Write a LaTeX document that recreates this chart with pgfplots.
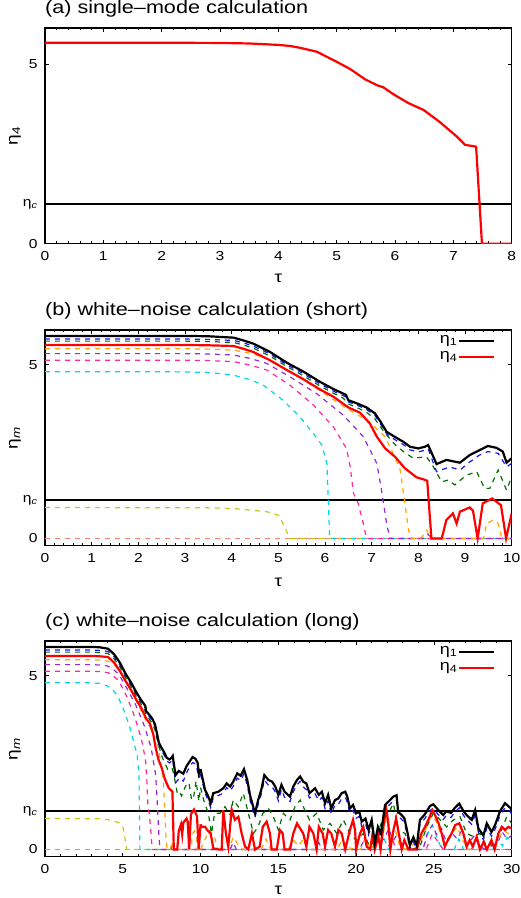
\documentclass[border=0pt]{standalone}
\usepackage{fontspec}
\setmainfont{Liberation Sans}[FakeStretch=1.2]
\usepackage{pgfplots}
\pgfplotsset{compat=1.18}
\usepackage{pgfplotstable}

\definecolor{cblue}{RGB}{20,20,255}
\definecolor{cgreen}{RGB}{0,110,0}
\definecolor{corange}{RGB}{255,165,0}
\definecolor{cpurple}{RGB}{150,40,220}
\definecolor{cpink}{RGB}{255,40,150}
\definecolor{ccyan}{RGB}{0,215,230}
\definecolor{cyellow}{RGB}{200,200,20}
\definecolor{csalmon}{RGB}{250,128,114}
\definecolor{cred}{RGB}{255,0,0}

\newcommand{\ticfont}{\fontsize{13}{13}\selectfont}
\newcommand{\titfont}{\fontsize{18}{18}\selectfont}
\newcommand{\labfont}{\fontsize{16}{16}\selectfont}
\newcommand{\legfont}{\fontsize{15}{15}\selectfont}

% ---------- panel (b) data, also first part of panel (c) ----------
\pgfplotstableread{
x y
0 5.83
3 5.83
3.5 5.82
4.04 5.78
4.25 5.70
4.46 5.61
4.82 5.37
5.18 5.06
5.54 4.80
5.89 4.51
6.18 4.30
6.39 4.17
6.45 4.13
6.5 3.98
6.68 3.89
6.89 3.77
7.07 3.60
7.18 3.38
7.32 3.07
7.5 2.92
7.68 2.78
7.82 2.64
8.0 2.59
8.14 2.64
8.21 2.69
8.39 2.14
8.6 2.26
8.89 2.18
9.1 2.40
9.31 2.54
9.49 2.66
9.67 2.61
9.81 2.50
9.89 2.18
10 2.31
}\blackB
\pgfplotstableread{
x y
0 5.74
3 5.74
3.5 5.73
4.04 5.70
4.25 5.63
4.46 5.54
4.82 5.31
5.18 5.00
5.54 4.74
5.89 4.45
6.18 4.24
6.39 4.11
6.45 4.07
6.5 3.93
6.68 3.84
6.89 3.71
7.07 3.54
7.18 3.31
7.32 3.01
7.5 2.84
7.68 2.70
7.82 2.55
8.0 2.49
8.14 2.54
8.21 2.58
8.39 1.92
8.67 2.06
8.89 1.97
9.1 2.20
9.31 2.40
9.49 2.50
9.71 2.45
9.89 2.06
10 2.16
}\blueB
\pgfplotstableread{
x y
0 5.68
3 5.68
3.5 5.67
4.04 5.64
4.25 5.57
4.46 5.48
4.82 5.25
5.18 4.95
5.54 4.68
5.89 4.39
6.18 4.18
6.39 4.04
6.5 3.87
6.68 3.77
6.89 3.63
7.07 3.44
7.18 3.22
7.32 2.98
7.5 2.70
7.68 2.50
7.89 2.31
8.17 2.35
8.28 2.16
8.5 1.63
8.64 1.68
8.78 1.54
9.03 1.82
9.25 1.92
9.42 1.44
9.53 1.44
9.71 1.97
9.89 1.39
10 1.78
}\greenB
\pgfplotstableread{
x y
0 5.57
3 5.57
3.5 5.56
4.04 5.54
4.25 5.46
4.46 5.37
4.82 5.13
5.18 4.85
5.54 4.58
5.89 4.29
6.18 4.08
6.5 3.77
6.75 3.62
6.96 3.31
7.11 2.93
7.29 2.59
7.5 2.35
7.71 2.02
7.96 1.76
8.11 1.70
8.19 1.66
8.28 0
8.5 0
8.6 0.53
8.74 0.72
8.82 0.43
8.89 0.77
9.1 0.89
9.17 0.80
9.27 0
9.38 1.01
9.58 1.15
9.77 0.96
9.88 0
10 0.72
}\redB
\pgfplotstableread{
x y
0 5.46
3 5.46
3.5 5.45
4.04 5.42
4.4 5.33
4.75 5.18
5.25 4.80
5.82 4.32
6.46 3.74
6.89 3.41
7.25 2.98
7.32 2.83
7.46 2.45
7.61 1.97
7.71 1.02
7.79 0.24
7.85 0
8.05 0
8.18 0.24
8.25 0.02
8.3 0
9.4 0
9.46 0.43
9.61 0.53
9.71 0.43
9.79 0
10 0
}\orangeB
\pgfplotstableread{
x y
0 5.32
3 5.32
3.5 5.31
4.04 5.28
4.4 5.18
4.75 5.04
5.25 4.65
5.82 4.17
6.39 3.55
6.82 2.93
7.11 2.16
7.21 1.39
7.32 0.43
7.39 0
8.1 0
8.2 0.12
8.3 0
10 0
}\purpleB
\pgfplotstableread{
x y
0 5.13
3 5.13
3.5 5.12
4.04 5.09
4.4 4.99
4.75 4.85
5.25 4.41
5.75 3.84
6.18 3.21
6.46 2.59
6.54 2.06
6.61 1.30
6.71 1.01
6.82 0.43
6.89 0
10 0
}\pinkB
\pgfplotstableread{
x y
0 4.80
2.6 4.80
3.5 4.78
4.04 4.70
4.4 4.57
4.68 4.41
5.1 3.98
5.46 3.50
5.75 3.02
5.93 2.69
6.04 2.16
6.07 1.10
6.1 0
10 0
}\cyanB
\pgfplotstableread{
x y
0 0.89
3.5 0.88
4.04 0.86
4.75 0.77
5.0 0.67
5.1 0.43
5.21 0.10
5.25 0
10 0
}\yellowB

% ---------- continuation of panel (c) ----------
\pgfplotstableread{
x y
10 2.31
10.1 2.10
10.29 1.71
10.5 1.52
10.65 1.33
10.82 1.62
11.14 1.66
11.46 1.76
11.68 1.90
11.9 1.81
12.1 1.95
12.36 2.19
12.58 2.12
12.79 2.31
13.0 2.00
13.2 1.52
13.5 1.04
13.7 1.42
13.9 1.71
14.1 2.14
14.36 2.00
14.6 1.95
14.8 1.81
15.0 1.57
15.2 1.86
15.4 1.66
15.75 1.52
15.96 1.81
16.2 2.00
16.4 2.10
16.6 1.95
16.8 1.90
17.0 1.62
17.36 1.76
17.6 1.57
17.8 1.66
18.0 1.33
18.2 1.57
18.4 1.18
18.64 1.42
18.86 1.47
19.07 1.62
19.3 1.66
19.43 1.52
19.6 1.18
19.8 1.28
20.0 1.04
20.2 1.09
20.36 0.80
20.6 0.89
20.8 0.56
21.0 0.85
21.2 0.17
21.4 0.65
21.6 0.46
21.86 1.28
22.07 1.37
22.39 1.52
22.6 1.56
22.7 1.08
22.9 1.00
23.1 0.90
23.25 0.60
23.46 0.12
23.68 0.35
23.9 0.10
24.1 0.85
24.4 1.00
24.75 1.25
24.96 1.30
25.25 1.15
25.6 0.99
25.8 1.10
26.1 1.05
26.35 1.20
26.63 1.32
26.9 1.10
27.1 0.99
27.43 0.85
27.65 1.13
27.86 0.60
28.18 0.40
28.4 0.75
28.7 0.50
28.93 0.70
29.25 1.10
29.57 1.33
29.9 1.20
30 1.15
}\blackC
\pgfplotstableread{
x y
10 2.16
10.1 1.98
10.29 1.62
10.5 1.40
10.65 1.20
10.82 1.50
11.14 1.55
11.46 1.62
11.68 1.78
11.9 1.68
12.1 1.82
12.36 2.05
12.58 1.98
12.79 2.18
13.0 1.85
13.2 1.38
13.5 0.92
13.7 1.30
13.9 1.58
14.1 2.00
14.36 1.85
14.6 1.80
14.8 1.66
15.0 1.40
15.2 1.72
15.4 1.50
15.75 1.38
15.96 1.66
16.2 1.86
16.4 1.96
16.6 1.80
16.8 1.72
17.0 1.48
17.36 1.60
17.6 1.40
17.8 1.50
18.0 1.18
18.2 1.40
18.4 1.02
18.64 1.28
18.86 1.30
19.07 1.46
19.3 1.50
19.43 1.36
19.6 1.02
19.8 1.12
20.0 0.90
20.2 0.95
20.36 0.66
20.6 0.75
20.8 0.42
21.0 0.70
21.2 0.05
21.4 0.52
21.6 0.35
21.86 1.15
22.07 1.25
22.39 1.40
22.6 1.44
22.7 0.95
22.9 0.88
23.1 0.78
23.25 0.48
23.46 0.02
23.68 0.22
23.9 0.00
24.1 0.72
24.4 0.88
24.75 1.12
24.96 1.18
25.25 1.02
25.6 0.86
25.8 0.98
26.1 0.92
26.35 1.08
26.63 1.20
26.9 0.98
27.1 0.86
27.43 0.72
27.65 1.00
27.86 0.48
28.18 0.28
28.4 0.62
28.7 0.38
28.93 0.58
29.25 0.98
29.57 1.20
29.9 1.08
30 1.02
}\blueC
\pgfplotstableread{
x y
10 1.78
10.2 1.42
10.5 1.04
10.7 0.46
10.9 1.04
11.25 1.04
11.57 1.23
11.9 1.00
12.1 1.42
12.43 1.23
12.75 1.62
13.07 1.04
13.4 0.46
13.7 0.65
14.0 1.04
14.36 1.18
14.68 0.94
15.0 0.56
15.32 1.04
15.75 0.85
16.07 1.23
16.4 1.42
16.71 1.13
17.0 0.85
17.46 1.04
17.89 0.56
18.32 0.75
18.75 0.46
19.18 0.85
19.6 0.46
20.0 0.27
20.46 0.46
20.89 0.08
21.32 0.37
21.75 0.94
22.07 1.04
22.4 1.32
22.7 0.56
23.14 0.46
23.57 0
24.1 0.08
24.54 0.65
24.96 1.04
25.4 0.85
25.82 0.65
26.25 0.85
26.68 0.94
27.1 0.46
27.53 0.37
27.96 0.46
28.4 0.08
28.82 0.17
29.25 0.46
29.68 0.94
30 0.75
}\greenC
\pgfplotstableread{
x y
10 0.72
10.07 0.65
10.29 0.65
10.43 0.56
10.65 0.46
10.82 0.03
11.14 0
11.36 0
11.46 1.13
11.63 0.46
11.78 0.08
12.0 1.15
12.2 0.85
12.43 0.94
12.64 0.46
12.86 0.08
13.07 0
13.3 0.46
13.5 0
13.8 0.08
14.0 0.65
14.25 0.80
14.46 0.46
14.57 0
14.9 0
15.1 0.56
15.28 0.46
15.4 0
15.75 0
15.96 0.46
16.2 0.75
16.4 0.60
16.6 0.46
16.8 0.08
17.0 0.65
17.25 0.46
17.46 0
17.6 0.65
17.85 0.46
18.0 0.08
18.2 0.56
18.4 0.46
18.64 0.08
18.86 0.56
19.07 0.46
19.3 0
19.6 0.56
19.8 0.85
19.93 0.56
20.0 0
20.25 0.46
20.46 0.65
20.68 0.08
20.9 0
21.06 0.46
21.2 0
21.43 0.37
21.57 0
21.75 0.65
21.93 1.18
22.07 0.75
22.2 0
22.4 0.56
22.57 0.89
22.7 0.56
22.93 0
23.1 0.27
23.36 0
23.9 0
24.2 0.46
24.43 0.65
24.64 0.85
24.9 1.13
25.07 0.99
25.3 0.75
25.5 0.46
25.7 0.08
25.9 0.27
26.14 0.46
26.36 0.70
26.63 0.75
26.9 0.46
27.1 0.08
27.3 0.27
27.5 0.08
27.75 0.37
27.96 0
28.2 0.22
28.4 0
28.7 0.27
28.9 0
29.14 0.46
29.36 0.65
29.57 0.56
29.78 0.65
30 0.60
}\redC
\pgfplotstableread{
x y
10 0
10.3 0.30
10.6 0.55
10.9 0.35
11.1 0
11.8 0
12.1 0.35
12.4 0.15
12.7 0
13.9 0
14.2 0.30
14.5 0
15.6 0
16.0 0.25
16.3 0.10
16.6 0.30
16.9 0
18.8 0
19.1 0.30
19.4 0.05
20.3 0
20.6 0.35
20.9 0
21.7 0.40
21.95 0.90
22.2 0.30
22.5 0.60
22.8 0.10
23.2 0
24.2 0.30
24.5 0.60
24.8 0.95
25.1 0.85
25.4 0.50
25.7 0.20
26.1 0.45
26.5 0.65
26.8 0.30
27.2 0
28.9 0
29.2 0.35
29.5 0.55
29.8 0.45
30 0.50
}\orangeC
\pgfplotstableread{
x y
10 0
11.9 0
12.1 0.20
12.3 0
17.4 0
17.6 0.20
17.8 0
20.2 0
20.5 0.25
20.8 0
21.8 0.30
22.1 0.60
22.4 0.25
22.7 0.50
23.0 0
24.3 0
24.6 0.50
24.9 0.70
25.2 0.40
25.5 0.60
25.8 0.20
26.2 0.45
26.5 0.30
26.8 0.55
27.1 0.10
27.6 0.40
27.9 0.10
28.3 0
29.1 0.20
29.4 0.50
29.7 0.30
30 0.40
}\purpleC
\pgfplotstableread{
x y
10 0
21.5 0
21.8 0.30
22.1 0
24.3 0
24.6 0.45
24.9 0.70
25.2 0.35
25.5 0
26.3 0
26.6 0.30
26.9 0
28.8 0
29.1 0.30
29.4 0.10
29.7 0.35
30 0.20
}\cyanC
\pgfplotstableread{
x y
10 0
22 0
22.3 0.30
22.6 0
24.5 0
24.9 0.45
25.3 0.20
25.6 0
27.4 0
27.7 0.30
28 0
30 0
}\pinkC

\pgfplotsset{
  dsh/.style={dash pattern=on 5pt off 5pt, line width=1.2pt},
  panel/.style={
    scale only axis, width=466.7pt, height=215.7pt,
    axis line style={line width=1.1pt},
    tick align=inside,
    major tick length=4pt, minor tick length=2.4pt,
    every tick/.style={black, line width=0.7pt},
    minor x tick num=4,
    ytick={0,1.1,5}, yticklabels={0,{η\textsubscript{\textit{c}}},5},
    yticklabel style={font=\ticfont, xshift=-4pt},
    xticklabel style={font=\ticfont, yshift=-4.5pt},
    /pgf/number format/assume math mode=true,
    title style={at={(axis description cs:0,1)}, anchor=base west, yshift=9pt, font=\titfont, inner sep=0pt},
    xlabel={τ},
    ylabel style={at={(axis description cs:-0.0643,0.5)}, anchor=center, font=\labfont},
    legend plot pos=right,
    legend cell align=right,
    legend image code/.code={\draw[##1] (0pt,0pt) -- (35pt,0pt);},
    legend style={at={(axis description cs:1,1)}, anchor=north east, xshift=-16pt, yshift=-4pt,
      draw=none, fill=none, font=\legfont, row sep=2pt, inner sep=0pt,
      nodes={inner sep=1pt, text height=8pt, text depth=4pt}},
  },
}

\begin{document}
\begin{tikzpicture}
\useasboundingbox (0pt,0pt) rectangle (521pt,-898pt);

% ---------------- (a) ----------------
\begin{axis}[panel, at={(45pt,-243.7pt)}, anchor=south west,
  xmin=0, xmax=8, ymin=0, ymax=6, xtick={0,...,8},
  title={(a) single–mode calculation},
  ylabel={η\textsubscript{4}},
  xlabel style={at={(axis description cs:0.5,-0.16)}, anchor=center, font=\labfont},
]
\addplot[black, line width=2pt] coordinates {(0,1.1) (8,1.1)};
\addplot[cred, line width=2.2pt] coordinates {
(0,5.59) (1,5.59) (2,5.59) (3,5.585) (3.5,5.57) (4,5.53) (4.2,5.50) (4.37,5.45)
(4.66,5.34) (5.0,5.06) (5.23,4.86) (5.49,4.57) (5.69,4.41) (5.8,4.35) (5.97,4.16)
(6.23,3.91) (6.49,3.72) (6.77,3.38) (7.06,2.98) (7.2,2.75) (7.39,2.70) (7.49,0) (8,0)};
\end{axis}

% ---------------- (b) ----------------
\begin{axis}[panel, at={(45pt,-545.7pt)}, anchor=south west,
  xmin=0, xmax=10, ymin=-0.21, ymax=6, xtick={0,...,10},
  title={(b) white–noise calculation (short)},
  ylabel={η\textsubscript{\textit{m}}},
  xlabel style={at={(axis description cs:0.5,-0.1706)}, anchor=center, font=\labfont},
]
\addlegendimage{black, line width=2.2pt}\addlegendentry{η\textsubscript{1}}
\addlegendimage{cred, line width=2.2pt}\addlegendentry{η\textsubscript{4}}
\addplot[forget plot, black, line width=2pt] coordinates {(0,1.1) (10,1.1)};
\addplot[forget plot, csalmon, dsh] coordinates {(0,0) (10,0)};
\addplot[forget plot, cyellow, dsh] table {\yellowB};
\addplot[forget plot, ccyan, dsh] table {\cyanB};
\addplot[forget plot, cpink, dsh] table {\pinkB};
\addplot[forget plot, cpurple, dsh] table {\purpleB};
\addplot[forget plot, corange, dsh] table {\orangeB};
\addplot[forget plot, cgreen, dsh] table {\greenB};
\addplot[forget plot, cblue, dsh] table {\blueB};
\addplot[forget plot, cred, line width=2.2pt] table {\redB};
\addplot[forget plot, black, line width=2.2pt] table {\blackB};
\end{axis}

% ---------------- (c) ----------------
\begin{axis}[panel, at={(45pt,-856.7pt)}, anchor=south west,
  xmin=0, xmax=30, ymin=-0.21, ymax=6, xtick={0,5,...,30},
  title={(c) white–noise calculation (long)},
  ylabel={η\textsubscript{\textit{m}}},
  xlabel style={at={(axis description cs:0.5,-0.155)}, anchor=center, font=\labfont},
]
\addlegendimage{black, line width=2.2pt}\addlegendentry{η\textsubscript{1}}
\addlegendimage{cred, line width=2.2pt}\addlegendentry{η\textsubscript{4}}
\addplot[forget plot, black, line width=2pt] coordinates {(0,1.1) (30,1.1)};
\addplot[forget plot, csalmon, dsh] coordinates {(0,0) (30,0)};
\addplot[forget plot, cyellow, dsh] table {\yellowB};
\addplot[forget plot, cyellow, dsh] coordinates {(10,0) (30,0)};
\addplot[forget plot, ccyan, dsh] table {\cyanB};
\addplot[forget plot, ccyan, dsh] table {\cyanC};
\addplot[forget plot, cpink, dsh] table {\pinkB};
\addplot[forget plot, cpink, dsh] table {\pinkC};
\addplot[forget plot, cpurple, dsh] table {\purpleB};
\addplot[forget plot, cpurple, dsh] table {\purpleC};
\addplot[forget plot, corange, dsh] table {\orangeB};
\addplot[forget plot, corange, dsh] table {\orangeC};
\addplot[forget plot, cgreen, dsh] table {\greenB};
\addplot[forget plot, cgreen, dsh] table {\greenC};
\addplot[forget plot, cblue, dsh] table {\blueB};
\addplot[forget plot, cblue, dsh] table {\blueC};
\addplot[forget plot, cred, line width=2.2pt] table {\redB};
\addplot[forget plot, cred, line width=2.2pt] table {\redC};
\addplot[forget plot, black, line width=2.2pt] table {\blackB};
\addplot[forget plot, black, line width=2.2pt] table {\blackC};
\end{axis}
\end{tikzpicture}
\end{document}
